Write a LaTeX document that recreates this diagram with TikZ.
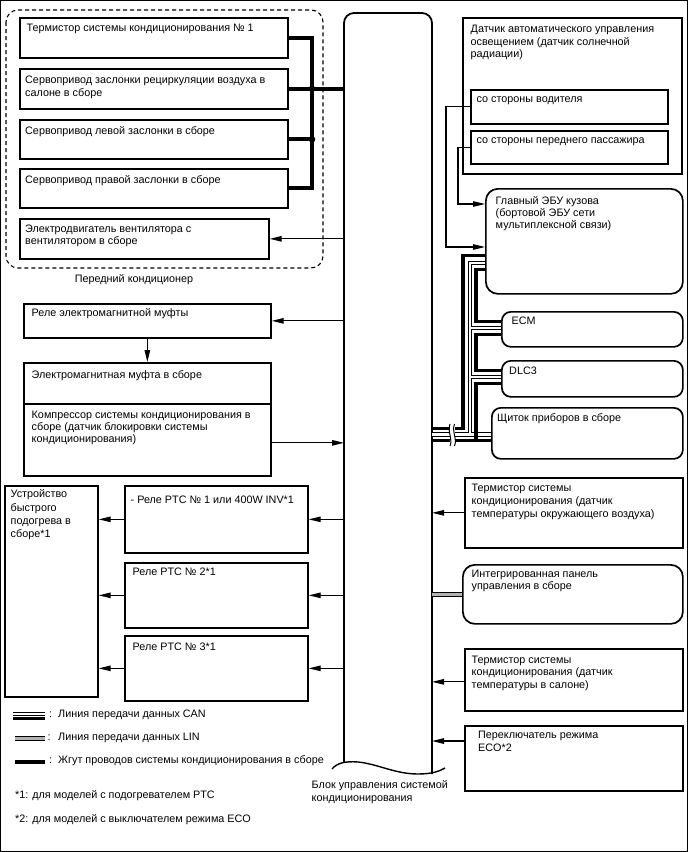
\documentclass[tikz,border=0pt]{standalone}
\usepackage{fontspec}
\setmainfont{Liberation Sans}
\usetikzlibrary{arrows.meta}
\begin{document}
\begin{tikzpicture}[x=1bp,y=-1bp,
 box/.style={draw,line width=1.7bp,anchor=north west,inner sep=0pt},
 rbox/.style={box,rounded corners=9bp},
 txt/.style={anchor=north west,inner sep=0pt,align=left,font=\fontsize{10.8bp}{12.2bp}\selectfont,execute at begin node=\strut},
 conn/.style={line width=1.2bp},
 arr/.style={conn,-{Triangle[length=12bp,width=5.5bp]}},
 harness/.style={line width=3.8bp},
 canthick/.style={line width=3.4bp},
 candbl/.style={double=white,double distance=2.8bp,line width=1bp},
 lin/.style={double=black!30,double distance=3.6bp,line width=1bp}]
\useasboundingbox (0,0) rectangle (688,852);
\draw[line width=1.5bp] (0.75,0.75) rectangle (687.25,851.25);

% control block
\coordinate (ctrlL) at (344,0);
\coordinate (ctrlR) at (432,0);
\draw[line width=1.8bp, rounded corners=10bp] (344,762.5) -- (344,13) -- (432,13) -- (432,774);
\draw[line width=1.4bp] (332,769) .. controls (337,763) and (345,761) .. (358,762) .. controls (378,764) and (395,774) .. (418,774) .. controls (432,774) and (440,771) .. (445,768);
\node[txt,font=\fontsize{10.8bp}{13bp}\selectfont] (blocklbl) at (311.5,780.5) {Блок управления системой\\кондиционирования};

% front air conditioner group
\draw[line width=1.1bp, dash pattern=on 4bp off 3bp, rounded corners=12bp] (6,10) rectangle (323,268);
\node[anchor=center,inner sep=0pt,font=\fontsize{10.8bp}{12bp}\selectfont] (kond) at (134,280) {Передний кондиционер};

\node[box,minimum width=268bp,minimum height=40bp] (t1) at (19,17) {};
\node[box,minimum width=268bp,minimum height=40bp] (t2) at (19,68) {};
\node[box,minimum width=268bp,minimum height=39bp] (t3) at (19,119) {};
\node[box,minimum width=268bp,minimum height=39bp] (t4) at (19,168) {};
\node[box,minimum width=249bp,minimum height=40bp] (blower) at (19,218) {};
\node[txt] (t1t) at (26.5,22.8) {Термистор системы кондиционирования № 1};
\node[txt] (t2t) at (25,76.2) {Сервопривод заслонки рециркуляции воздуха в\\салоне в сборе};
\node[txt] (t3t) at (25,125.5) {Сервопривод левой заслонки в сборе};
\node[txt] (t4t) at (25,174.5) {Сервопривод правой заслонки в сборе};
\node[txt] (blowert) at (25,224.5) {Электродвигатель вентилятора с\\вентилятором в сборе};

\coordinate (hx) at (312,0);
\draw[harness] (t1.east) -- (t1.east -| hx) -- (t4.east -| hx) -- (t4.east);
\draw[harness] (t2.east) -- (t2.east -| ctrlL);
\draw[harness] (t3.east) -- (t3.east -| hx);
\fill (t2.east -| hx) circle (3.3bp);
\fill (t3.east -| hx) circle (3.3bp);
\draw[arr] (blower.east -| ctrlL) -- (blower.east);

% clutch / compressor
\node[box,minimum width=247bp,minimum height=34bp] (relay) at (23,303) {};
\node[box,minimum width=247bp,minimum height=41bp] (mag) at (23,362) {};
\node[box,minimum width=247bp,minimum height=72bp] (comp) at (23,403) {};
\node[txt] (relayt) at (31.5,307.8) {Реле электромагнитной муфты};
\node[txt] (magt) at (31.5,369.5) {Электромагнитная муфта в сборе};
\node[txt] (compt) at (31.5,410.5) {Компрессор системы кондиционирования в\\сборе (датчик блокировки системы\\кондиционирования)};
\draw[arr] (relay.east -| ctrlL) -- (relay.east);
\draw[arr] (relay.south) -- (mag.north);
\coordinate (compA) at ([yshift=-3bp]comp.east);
\draw[arr] (compA) -- (compA -| ctrlL);

% PTC heater
\node[box,minimum width=93bp,minimum height=211bp] (heat) at (4,485) {};
\node[box,minimum width=183bp,minimum height=67bp] (p1) at (124,485) {};
\node[box,minimum width=183bp,minimum height=65bp] (p2) at (124,562) {};
\node[box,minimum width=183bp,minimum height=65bp] (p3) at (124,635) {};
\node[txt,font=\fontsize{10.8bp}{13.3bp}\selectfont] (heatt) at (10.5,489.5) {Устройство\\быстрого\\подогрева в\\сборе*1};
\node[txt] (p1t) at (130.5,494.5) {- Реле PTC № 1 или 400W INV*1};
\node[txt] (p2t) at (132.5,567.2) {Реле PTC № 2*1};
\node[txt] (p3t) at (132.5,641.8) {Реле PTC № 3*1};
\foreach \p in {p1,p2,p3}{
  \draw[arr] (\p.east -| ctrlL) -- (\p.east);
  \draw[arr] (\p.west) -- (\p.west -| heat.east);
}

% right side: sensor
\node[box,minimum width=219bp,minimum height=156bp] (sensor) at (462,17) {};
\node[box,minimum width=197bp,minimum height=34bp] (drv) at (470,89) {};
\node[box,minimum width=197bp,minimum height=33bp] (pas) at (470,130) {};
\node[txt] (sensort) at (470.5,25.2) {Датчик автоматического управления\\освещением (датчик солнечной\\радиации)};
\node[txt] (drvt) at (476.5,93.8) {со стороны водителя};
\node[txt] (past) at (476.5,134.5) {со стороны переднего пассажира};

\node[rbox,rounded corners=12bp,minimum width=197bp,minimum height=105bp] (ecu) at (485,188) {};
\node[txt] (ecut) at (495.5,196.2) {Главный ЭБУ кузова\\(бортовой ЭБУ сети\\мультиплексной связи)};
\coordinate (v1) at (446,247);
\coordinate (v2) at (458,204);
\draw[arr] (drv.west) -| (v1) -- (v1 -| ecu.west);
\draw[arr] (pas.west) -| (v2) -- (v2 -| ecu.west);

\node[rbox,minimum width=181bp,minimum height=35bp] (ecm) at (501,311) {};
\node[rbox,minimum width=181bp,minimum height=36bp] (dlc) at (501,360) {};
\node[rbox,minimum width=191bp,minimum height=51bp] (clu) at (491,407) {};
\node[txt] (ecmt) at (511.5,316.2) {ECM};
\node[txt] (dlct) at (509,365.5) {DLC3};
\node[txt] (clut) at (497,412.8) {Щиток приборов в сборе};

% CAN wiring
\draw[canthick] (485,255.5) -- (463,255.5) -- (463,428.5) -- (432,428.5);
\draw[candbl] (432,434.5) -- (491,434.5);
\draw[candbl] (485,263) -- (470,263) -- (470,433.1);
\draw[candbl] (471.4,328) -- (501,328);
\draw[candbl] (471.4,377) -- (501,377);
\draw[canthick] (485,269.5) -- (476,269.5) -- (476,321.5) -- (501,321.5);
\draw[canthick] (501,334.5) -- (476,334.5) -- (476,370.5) -- (501,370.5);
\draw[canthick] (501,383.5) -- (476,383.5) -- (476,440.5) -- (491,440.5);
\draw[canthick] (432,440.5) -- (476,440.5);
\fill[white] (449.5,424) rectangle (454.5,446);
\draw[line width=1bp] (450,424) .. controls (447,431) and (453,439) .. (450,446);
\draw[line width=1bp] (454.5,424) .. controls (451.5,431) and (457.5,439) .. (454.5,446);

% right side lower
\node[box,minimum width=218bp,minimum height=70bp] (amb) at (464,477) {};
\node[rbox,rounded corners=12bp,minimum width=220bp,minimum height=59bp] (panel) at (462,564) {};
\node[box,minimum width=218bp,minimum height=62bp] (cabin) at (464,648) {};
\node[box,minimum width=218bp,minimum height=65bp] (eco) at (464,725) {};
\node[txt,font=\fontsize{10.8bp}{12.8bp}\selectfont] (ambt) at (471.5,483.8) {Термистор системы\\кондиционирования (датчик\\температуры окружающего воздуха)};
\node[txt,font=\fontsize{10.8bp}{12.8bp}\selectfont] (panelt) at (471.5,569.5) {Интегрированная панель\\управления в сборе};
\node[txt,font=\fontsize{10.8bp}{12.8bp}\selectfont] (cabint) at (471.5,655.5) {Термистор системы\\кондиционирования (датчик\\температуры в салоне)};
\node[txt] (ecot) at (478,731.2) {Переключатель режима\\ECO*2};
\draw[arr] (amb.west) -- (amb.west -| ctrlR);
\draw[lin] (panel.west -| ctrlR) -- (panel.west);
\coordinate (cabA) at ([yshift=-2bp]cabin.west);
\draw[arr] (cabA) -- (cabA -| ctrlR);
\coordinate (ecoA) at ([yshift=-16bp]eco.north west);
\draw[arr] (ecoA) -- (ecoA -| ctrlR);

% legend
\draw[line width=1bp] (13,712) -- (45,712);
\draw[line width=1bp] (13,715) -- (45,715);
\draw[line width=2.2bp] (13,718.5) -- (45,718.5);
\draw[lin] (15,738.5) -- (45,738.5);
\draw[line width=4bp] (15,761.5) -- (45,761.5);
\node[txt,anchor=west] (lg1) at (49,715.5) {:\hspace{6bp}Линия передачи данных CAN};
\node[txt,anchor=west] (lg2) at (47.5,738.5) {:\hspace{7.5bp}Линия передачи данных LIN};
\node[txt,anchor=west] (lg3) at (49,761.5) {:\hspace{6bp}Жгут проводов системы кондиционирования в сборе};
\node[txt,anchor=west] (fn1) at (15,796) {*1: для моделей с подогревателем PTC};
\node[txt,anchor=west] (fn2) at (15,820) {*2: для моделей с выключателем режима ECO};
\end{tikzpicture}
\end{document}
